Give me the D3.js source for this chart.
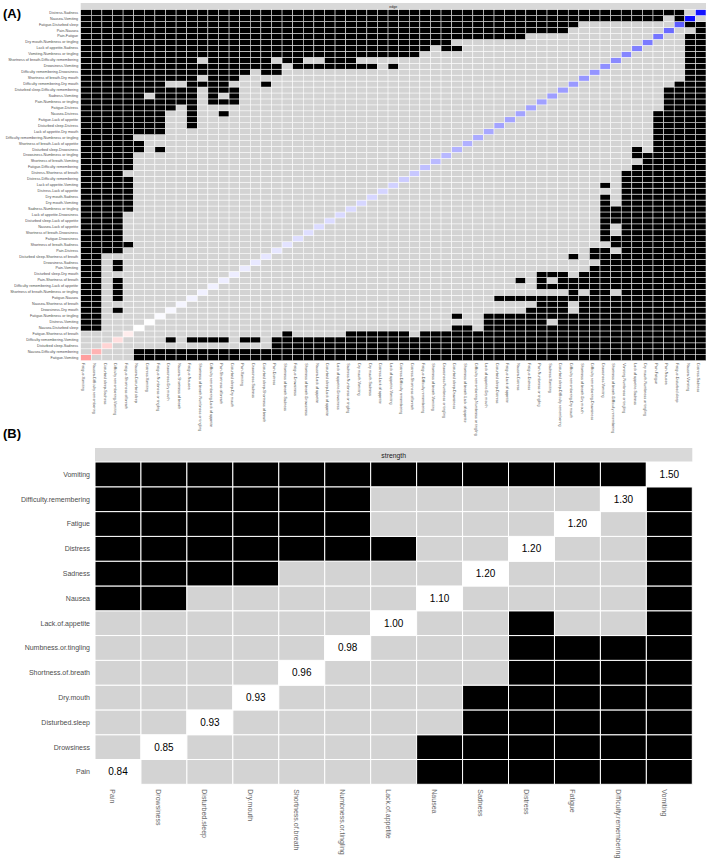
<!DOCTYPE html>
<html>
<head>
<meta charset="utf-8">
<script src="https://cdn.jsdelivr.net/npm/d3@7"></script>
<style>
  body { margin: 0; background: #fff; }
  svg { font-family: "Liberation Sans", Arial, sans-serif; display: block; }
</style>
</head>
<body>
<svg id="chart" width="709" height="860"></svg>
<script>
// ---- panel A data: edges from weakest (left / bottom) to strongest ----
const edges = [
  "Fatigue-Vomiting", "Nausea-Difficulty remembering", "Disturbed sleep-Sadness",
  "Difficulty remembering-Vomiting", "Fatigue-Shortness of breath", "Nausea-Disturbed sleep",
  "Distress-Vomiting", "Fatigue-Numbness or tingling", "Drowsiness-Dry mouth",
  "Nausea-Shortness of breath", "Fatigue-Nausea", "Shortness of breath-Numbness or tingling",
  "Difficulty remembering-Lack of appetite", "Pain-Shortness of breath", "Disturbed sleep-Dry mouth",
  "Pain-Vomiting", "Drowsiness-Sadness", "Disturbed sleep-Shortness of breath",
  "Pain-Distress", "Shortness of breath-Sadness", "Fatigue-Drowsiness",
  "Shortness of breath-Drowsiness", "Nausea-Lack of appetite", "Disturbed sleep-Lack of appetite",
  "Lack of appetite-Drowsiness", "Sadness-Numbness or tingling", "Dry mouth-Vomiting",
  "Dry mouth-Sadness", "Distress-Lack of appetite", "Lack of appetite-Vomiting",
  "Distress-Difficulty remembering", "Distress-Shortness of breath", "Fatigue-Difficulty remembering",
  "Shortness of breath-Vomiting", "Drowsiness-Numbness or tingling", "Disturbed sleep-Drowsiness",
  "Shortness of breath-Lack of appetite", "Difficulty remembering-Numbness or tingling", "Lack of appetite-Dry mouth",
  "Disturbed sleep-Distress", "Fatigue-Lack of appetite", "Nausea-Distress",
  "Fatigue-Distress", "Pain-Numbness or tingling", "Sadness-Vomiting",
  "Disturbed sleep-Difficulty remembering", "Difficulty remembering-Dry mouth", "Shortness of breath-Dry mouth",
  "Difficulty remembering-Drowsiness", "Drowsiness-Vomiting", "Shortness of breath-Difficulty remembering",
  "Vomiting-Numbness or tingling", "Lack of appetite-Sadness", "Dry mouth-Numbness or tingling",
  "Pain-Fatigue", "Pain-Nausea", "Fatigue-Disturbed sleep",
  "Nausea-Vomiting", "Distress-Sadness"
];

// sample edge weight (diagonal colour), same order as edges
const edgeWeight = [
  -0.114, -0.090, -0.051, -0.039, -0.021, 0.000, 0.001, 0.006, 0.009, 0.012,
  0.015, 0.018, 0.018, 0.021, 0.021, 0.024, 0.027, 0.030, 0.030, 0.033,
  0.039, 0.039, 0.042, 0.042, 0.045, 0.045, 0.048, 0.048, 0.051, 0.054,
  0.060, 0.066, 0.075, 0.081, 0.084, 0.090, 0.093, 0.099, 0.102, 0.108,
  0.108, 0.108, 0.111, 0.111, 0.114, 0.117, 0.120, 0.123, 0.126, 0.132,
  0.138, 0.144, 0.150, 0.156, 0.162, 0.174, 0.190, 0.285, 0.276
];

// significant difference of edge i against each weaker edge j < i ("1" = black)
const edgeSig = [
  "",
  "0",
  "00",
  "000",
  "0000",
  "11000",
  "110000",
  "1100000",
  "11010000",
  "110000000",
  "1101000000",
  "1101000000 0",
  "1101000000 00",
  "1101000000 000",
  "1100000000 0000",
  "1101000000 00000",
  "1101000000 000000",
  "1100000000 0000000",
  "1111000000 00000000",
  "1111100000 000000000",
  "1111000000 0000000000",
  "1111000000 0000000000 0",
  "1111000000 0000000000 00",
  "1111000000 0000000000 000",
  "1111000000 0000000000 0000",
  "1111100000 0000000000 00000",
  "1111100000 0000000000 000000",
  "1111100000 0000000000 0000000",
  "1111100000 0000000000 00000000",
  "1111100000 0000000000 000000000",
  "1111100000 0000000000 0000000000",
  "1111000000 0000000000 0000000000 0",
  "1111100000 0000000000 0000000000 00",
  "1111100000 0000000000 0000000000 000",
  "1111100000 0000000000 0000000000 0000",
  "1111110100 0000000000 0000000000 00000",
  "1111110000 0000000000 0000000000 000000",
  "1111100000 0000000000 0000000000 0000000",
  "1111111100 0000000000 0000000000 00000000",
  "1111111100 1000000000 0000000000 000000000",
  "1111111100 1000000000 0000000000 0000000000",
  "1111111100 1001000000 0000000000 0000000000 0",
  "1111111110 1000000000 0000000000 0000000000 00",
  "1111111111 1011100000 0000000000 0000000000 000",
  "1111110111 1010100000 0000000000 0000000000 0000",
  "1111111111 1011100000 0000000000 0000000000 00000",
  "1111111100 1111000100 0000000000 0000000000 000000",
  "1111111111 1011100000 0000000000 0000000000 0000000",
  "1111111111 1111110110 0000000000 0000000000 00000000",
  "1111111111 1111111110 1111111101 0000000000 000000000",
  "1111111111 1011111101 1001110000 0000000000 0000000000",
  "1111111111 1111111111 1111111111 1100000000 0000000000 0",
  "1111111111 1111111111 1111111111 1110110000 0000000000 00",
  "1111111111 1111111111 1111111111 1111100000 0000000000 000",
  "1111111111 1111111111 1111111111 1111111111 1100000000 0000",
  "1111111111 1111111111 1111111111 1111111111 1111110000 00000",
  "1111111111 1111111111 1111111111 1111111111 1111111000 000000",
  "1111111111 1111111111 1111111111 1111111111 1111111111 1111101",
  "1111111111 1111111111 1111111111 1111111111 1111111111 11111110"
];

// ---- panel B data: node strength ----
const symptoms = [
  "Pain", "Drowsiness", "Disturbed.sleep", "Dry.mouth", "Shortness.of.breath",
  "Numbness.or.tingling", "Lack.of.appetite", "Nausea", "Sadness", "Distress",
  "Fatigue", "Difficulty.remembering", "Vomiting"
];
const strength = [0.84, 0.85, 0.93, 0.93, 0.96, 0.98, 1.00, 1.10, 1.20, 1.20, 1.20, 1.30, 1.50];
const strengthSig = [
  "",
  "0",
  "00",
  "000",
  "0000",
  "00000",
  "000000",
  "1100000",
  "11110000",
  "111111100",
  "1111110000",
  "11111100000",
  "111111111111"
];

const svg = d3.select("#chart");
const lightGrey = "#d3d3d3";
const stripGrey = "#d9d9d9";

function isSig(table, i, j) {
  const a = Math.max(i, j), b = Math.min(i, j);
  return table[a].replace(/ /g, "")[b] === "1";
}

function cellsOf(n) {
  const out = [];
  for (let i = 0; i < n; i++) for (let j = 0; j < n; j++) out.push({ i, j });
  return out;
}

// ================= panel A =================
const A = { left: 80.7, right: 706, top: 9.7, bottom: 360.7 };
const nA = edges.length;

const xA = d3.scaleBand().domain(d3.range(nA)).range([A.left, A.right]);
const yA = d3.scaleBand().domain(d3.range(nA).reverse()).range([A.top, A.bottom]);
const colourA = d3.scaleLinear().domain([-0.3, 0, 0.3]).range(["#ff0000", "#ffffff", "#0000ff"]).clamp(true);

svg.append("text")
  .attr("x", 3).attr("y", 18)
  .attr("font-size", 13).attr("font-weight", "bold")
  .text("(A)");

svg.append("rect")
  .attr("x", A.left).attr("y", 3)
  .attr("width", A.right - A.left).attr("height", A.top - 3)
  .attr("fill", stripGrey);
svg.append("text")
  .attr("x", (A.left + A.right) / 2).attr("y", 6.5)
  .attr("text-anchor", "middle").attr("dominant-baseline", "central")
  .attr("font-size", 3.6).attr("fill", "#1a1a1a")
  .text("edge");

svg.append("g")
  .selectAll("rect")
  .data(cellsOf(nA))
  .join("rect")
  .attr("x", d => xA(d.j))
  .attr("y", d => yA(d.i))
  .attr("width", xA.bandwidth())
  .attr("height", yA.bandwidth())
  .attr("fill", d => d.i === d.j ? colourA(edgeWeight[d.i]) : (isSig(edgeSig, d.i, d.j) ? "#000" : lightGrey))
  .attr("stroke", "#fff")
  .attr("stroke-width", 0.5);

svg.append("g")
  .selectAll("text")
  .data(edges)
  .join("text")
  .attr("x", A.left - 2.5)
  .attr("y", (d, i) => yA(i) + yA.bandwidth() / 2)
  .attr("text-anchor", "end").attr("dominant-baseline", "central")
  .attr("font-size", 3.7).attr("fill", "#4d4d4d")
  .text(d => d);

svg.append("g")
  .selectAll("text")
  .data(edges)
  .join("text")
  .attr("transform", (d, i) => `translate(${xA(i) + xA.bandwidth() / 2 - 2.5},${A.bottom + 2.5}) rotate(90)`)
  .attr("text-anchor", "start").attr("dominant-baseline", "central")
  .attr("font-size", 3.7).attr("fill", "#4d4d4d")
  .text(d => d);

// ================= panel B =================
const B = { left: 95, right: 692.3, top: 462, bottom: 784.3 };
const nB = symptoms.length;

const xB = d3.scaleBand().domain(d3.range(nB)).range([B.left, B.right]);
const yB = d3.scaleBand().domain(d3.range(nB).reverse()).range([B.top, B.bottom]);

svg.append("text")
  .attr("x", 3).attr("y", 438)
  .attr("font-size", 13).attr("font-weight", "bold")
  .text("(B)");

svg.append("rect")
  .attr("x", B.left).attr("y", 448)
  .attr("width", B.right - B.left).attr("height", B.top - 448)
  .attr("fill", stripGrey);
svg.append("text")
  .attr("x", (B.left + B.right) / 2).attr("y", 455.5)
  .attr("text-anchor", "middle").attr("dominant-baseline", "central")
  .attr("font-size", 6.8).attr("fill", "#1a1a1a")
  .text("strength");

const cellB = svg.append("g")
  .selectAll("g")
  .data(cellsOf(nB))
  .join("g");

cellB.append("rect")
  .attr("x", d => xB(d.j))
  .attr("y", d => yB(d.i))
  .attr("width", xB.bandwidth())
  .attr("height", yB.bandwidth())
  .attr("fill", d => d.i === d.j ? "#fff" : (isSig(strengthSig, d.i, d.j) ? "#000" : lightGrey))
  .attr("stroke", "#fff")
  .attr("stroke-width", 1);

cellB.filter(d => d.i === d.j)
  .append("text")
  .attr("x", d => xB(d.j) + xB.bandwidth() / 2)
  .attr("y", d => yB(d.i) + yB.bandwidth() / 2)
  .attr("text-anchor", "middle").attr("dominant-baseline", "central")
  .attr("font-size", 10).attr("fill", "#000")
  .text(d => strength[d.i].toFixed(2));

svg.append("g")
  .selectAll("text")
  .data(symptoms)
  .join("text")
  .attr("x", B.left - 5)
  .attr("y", (d, i) => yB(i) + yB.bandwidth() / 2)
  .attr("text-anchor", "end").attr("dominant-baseline", "central")
  .attr("font-size", 7).attr("fill", "#4d4d4d")
  .text(d => d);

svg.append("g")
  .selectAll("text")
  .data(symptoms)
  .join("text")
  .attr("transform", (d, i) => `translate(${xB(i) + xB.bandwidth() / 2 - 5},${B.bottom + 5}) rotate(90)`)
  .attr("text-anchor", "start").attr("dominant-baseline", "central")
  .attr("font-size", 7).attr("fill", "#666")
  .text(d => d);
</script>
</body>
</html>
